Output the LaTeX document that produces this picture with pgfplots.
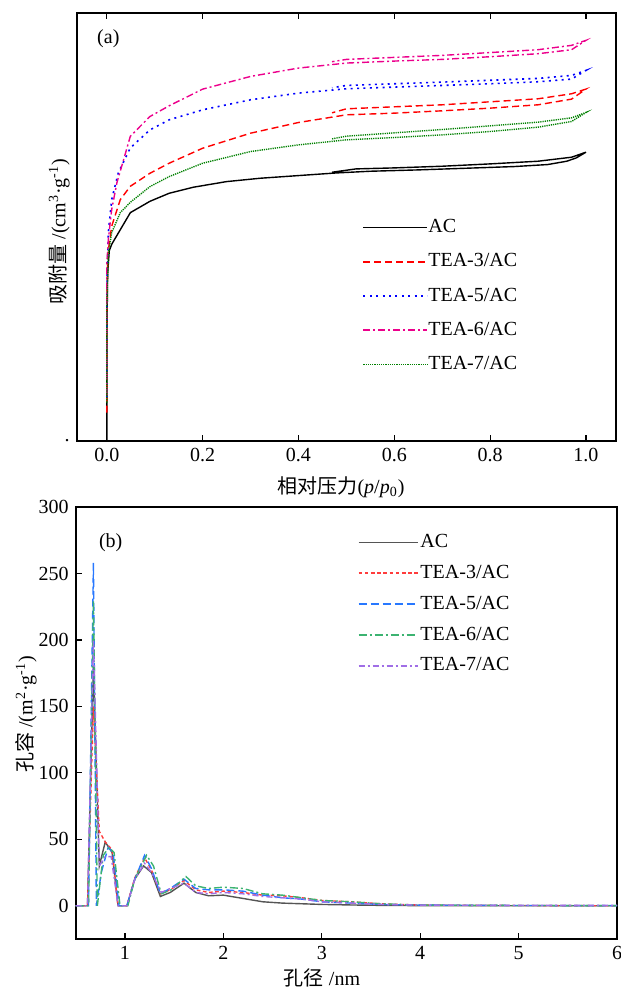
\documentclass[border=0pt]{standalone}
\usepackage{fontspec}
\setmainfont{Liberation Serif}
\newfontfamily\cjk{Noto Sans CJK SC}
\usepackage{pgfplots}
\pgfplotsset{compat=1.18}

\definecolor{acgray}{RGB}{85,85,85}
\definecolor{bred}{RGB}{255,60,60}
\definecolor{bblue}{RGB}{40,120,255}
\definecolor{bgreen}{RGB}{60,179,113}
\definecolor{bpurple}{RGB}{160,110,230}

\pgfplotsset{
  every axis/.append style={
    scale only axis,
    tick align=inside,
    major tick length=3pt,
    axis line style={line width=0.8pt},
    every tick/.style={black, line width=0.6pt},
    legend cell align=left,
    /pgf/number format/assume math mode=true,
  },
  mylegend/.style={
    legend image code/.code={\draw[##1, line width=0.9pt] (0pt,0pt) -- (#1,0pt);},
  },
}

\begin{document}
\fontsize{10}{12}\selectfont
\begin{tikzpicture}
\path[use as bounding box] (0pt,0pt) rectangle (310.5pt,495.5pt);

% (a) isotherms
\begin{axis}[
  at={(38.35pt,275pt)}, anchor=south west,
  width=269.7pt, height=214pt,
  xmin=-0.063, xmax=1.063, ymin=0, ymax=1282,
  xtick={0,0.2,0.4,0.6,0.8,1.0},
  xticklabel style={/pgf/number format/.cd, fixed, fixed zerofill, precision=1},
  xtick pos=both,
  ytick={0}, yticklabels={.}, ytick style={draw=none},
  xlabel={{\cjk 相对压力}(\textit{p}/\textit{p}\textsubscript{0})},
  xlabel style={at={(axis description cs:0.49,0)}, anchor=center, yshift=-23pt},
  ylabel={{\cjk 吸附量} /(cm\textsuperscript{3}·g\textsuperscript{-1})},
  ylabel style={at={(axis description cs:0,0.475)}, anchor=south, xshift=3pt},
  mylegend=32pt,
  legend style={draw=none, fill=none, at={(0.518,0.528)}, anchor=north west,
    row sep=9pt, nodes={inner xsep=0pt, inner ysep=0pt}},
]
\node[anchor=west] at (rel axis cs:0.025,0.94) {(a)};
\addplot[black, line width=0.7pt] coordinates {
 (0,0) (0,300) (0.0015,500) (0.005,570) (0.0104,590) (0.049,684) (0.09,718)
 (0.13,742) (0.18,760) (0.25,777) (0.32,787) (0.40,795) (0.48,803) (0.55,808)
 (0.65,812) (0.75,817) (0.85,822) (0.92,828) (0.96,838) (0.98,848) (1.0,865)
 (0.97,850) (0.9,838) (0.8,830) (0.7,823) (0.6,818) (0.52,815) (0.5,811) (0.47,805)};
\addlegendentry{AC}
\addplot[red, line width=0.7pt, dash pattern=on 3.5pt off 2pt] coordinates {
 (0,85) (0,400) (0.002,560) (0.01,643) (0.028,723) (0.049,763) (0.09,802)
 (0.13,832) (0.2,877) (0.3,922) (0.4,954) (0.5,977) (0.6,982) (0.7,989)
 (0.8,997) (0.9,1007) (0.97,1024) (1.0,1054)
 (0.97,1040) (0.9,1025) (0.7,1007) (0.5,995) (0.47,983)};
\addlegendentry{TEA-3/AC}
\addplot[blue, line width=0.8pt, dash pattern=on 1pt off 2.2pt] coordinates {
 (0,130) (0,450) (0.003,624) (0.01,723) (0.024,804) (0.049,878) (0.09,932)
 (0.13,962) (0.2,992) (0.3,1022) (0.4,1042) (0.5,1055) (0.6,1060) (0.7,1065)
 (0.8,1070) (0.9,1076) (0.97,1084) (1.0,1110)
 (0.97,1095) (0.9,1086) (0.7,1075) (0.5,1065) (0.47,1058)};
\addlegendentry{TEA-5/AC}
\addplot[magenta, line width=0.7pt, dash pattern=on 3.5pt off 1.5pt on 1pt off 1.5pt] coordinates {
 (0,140) (0,534) (0.003,603) (0.01,693) (0.021,774) (0.035,843) (0.049,913)
 (0.09,972) (0.13,1004) (0.2,1054) (0.3,1092) (0.4,1117) (0.5,1132) (0.6,1138)
 (0.7,1143) (0.8,1151) (0.9,1160) (0.97,1172) (1.0,1200)
 (0.97,1185) (0.9,1172) (0.7,1155) (0.5,1143) (0.47,1136)};
\addlegendentry{TEA-6/AC}
\addplot[black!50!green, line width=0.7pt, dash pattern=on 0.6pt off 0.5pt] coordinates {
 (0,115) (0,400) (0.003,560) (0.01,624) (0.028,684) (0.049,715) (0.09,762)
 (0.13,792) (0.2,832) (0.3,867) (0.4,887) (0.5,902) (0.6,909) (0.7,917)
 (0.8,927) (0.9,940) (0.97,957) (1.0,984)
 (0.97,968) (0.9,955) (0.7,933) (0.5,913) (0.47,905)};
\addlegendentry{TEA-7/AC}
\end{axis}

% (b) pore size distribution
\begin{axis}[
  at={(37.85pt,26pt)}, anchor=south west,
  width=270.7pt, height=216pt,
  xmin=0.5, xmax=6, ymin=-25, ymax=300,
  xtick={1,2,3,4,5,6}, ytick={0,50,100,150,200,250,300},
  xtick pos=bottom, ytick pos=left,
  xlabel={{\cjk 孔径} /nm},
  xlabel style={at={(axis description cs:0.455,0)}, anchor=center, yshift=-19.5pt},
  ylabel={{\cjk 孔容} /(m\textsuperscript{2}·g\textsuperscript{-1})},
  ylabel style={at={(axis description cs:-0.059,0.52)}, anchor=south},
  mylegend=29.5pt,
  legend style={draw=none, fill=none, at={(0.509,0.947)}, anchor=north west,
    row sep=7.3pt, nodes={inner xsep=1pt, inner ysep=0pt}},
]
\node[anchor=west] at (rel axis cs:0.03,0.917) {(b)};
\addplot[acgray, line width=0.7pt] coordinates {
 (0.5,0) (0.62,0) (0.68,180) (0.74,30) (0.80,48) (0.87,40) (0.93,0) (1.02,0)
 (1.1,20) (1.19,30) (1.27,25) (1.36,7) (1.46,10) (1.6,17) (1.72,10) (1.85,7.5)
 (2.0,8) (2.2,5.5) (2.4,3) (2.6,2) (2.8,1.5) (3.0,1) (3.3,0.6) (3.6,0.3)
 (4,0.1) (5,0) (6,0)};
\addlegendentry{AC}
\addplot[bred, line width=0.7pt, dash pattern=on 1.8pt off 1.3pt] coordinates {
 (0.5,0) (0.62,0) (0.68,150) (0.74,56) (0.80,48) (0.87,42) (0.93,0) (1.02,0)
 (1.1,21) (1.2,36) (1.27,27) (1.36,9) (1.46,12) (1.6,19) (1.72,12) (1.85,10)
 (2.0,11) (2.2,10) (2.4,8) (2.6,7.5) (2.8,6) (3.0,4) (3.3,3) (3.6,1.5)
 (4,0.5) (5,0.2) (6,0)};
\addlegendentry{TEA-3/AC}
\addplot[bblue, line width=0.7pt, dash pattern=on 4pt off 2pt] coordinates {
 (0.5,0) (0.63,0) (0.68,258) (0.71,0) (0.76,25) (0.83,44) (0.88,40) (0.94,0)
 (1.02,0) (1.1,20) (1.2,38) (1.27,28) (1.36,9) (1.46,13) (1.6,20) (1.72,13)
 (1.85,12) (2.0,12) (2.2,11) (2.4,8) (2.6,6) (2.8,5) (3.0,3) (3.3,2) (3.6,1)
 (4,0.5) (5,0.2) (6,0.1)};
\addlegendentry{TEA-5/AC}
\addplot[bgreen, line width=0.7pt, dash pattern=on 4pt off 1.5pt on 1pt off 1.5pt] coordinates {
 (0.5,0) (0.63,0) (0.68,230) (0.72,0) (0.78,38) (0.84,44) (0.89,40) (0.95,0)
 (1.03,0) (1.1,20) (1.22,38) (1.29,30) (1.37,9) (1.47,12) (1.62,22) (1.72,15)
 (1.85,13) (2.0,14) (2.2,13) (2.4,9) (2.6,8) (2.8,6) (3.0,4) (3.3,3) (3.6,1.5)
 (4,0.5) (5,0.2) (6,0.1)};
\addlegendentry{TEA-6/AC}
\addplot[bpurple, line width=0.7pt, dash pattern=on 3pt off 1.5pt on 1pt off 1.5pt] coordinates {
 (0.5,0) (0.62,0) (0.68,200) (0.74,30) (0.80,37) (0.86,37) (0.93,0) (1.02,0)
 (1.1,20) (1.2,32) (1.27,25) (1.37,10) (1.46,13) (1.6,17) (1.72,10) (1.85,9)
 (2.0,10) (2.2,9) (2.4,7) (2.6,6) (2.8,5) (3.0,3) (3.3,2) (3.6,1) (4,0.5)
 (5,0.3) (6,0.3)};
\addlegendentry{TEA-7/AC}
\end{axis}
\end{tikzpicture}
\end{document}
